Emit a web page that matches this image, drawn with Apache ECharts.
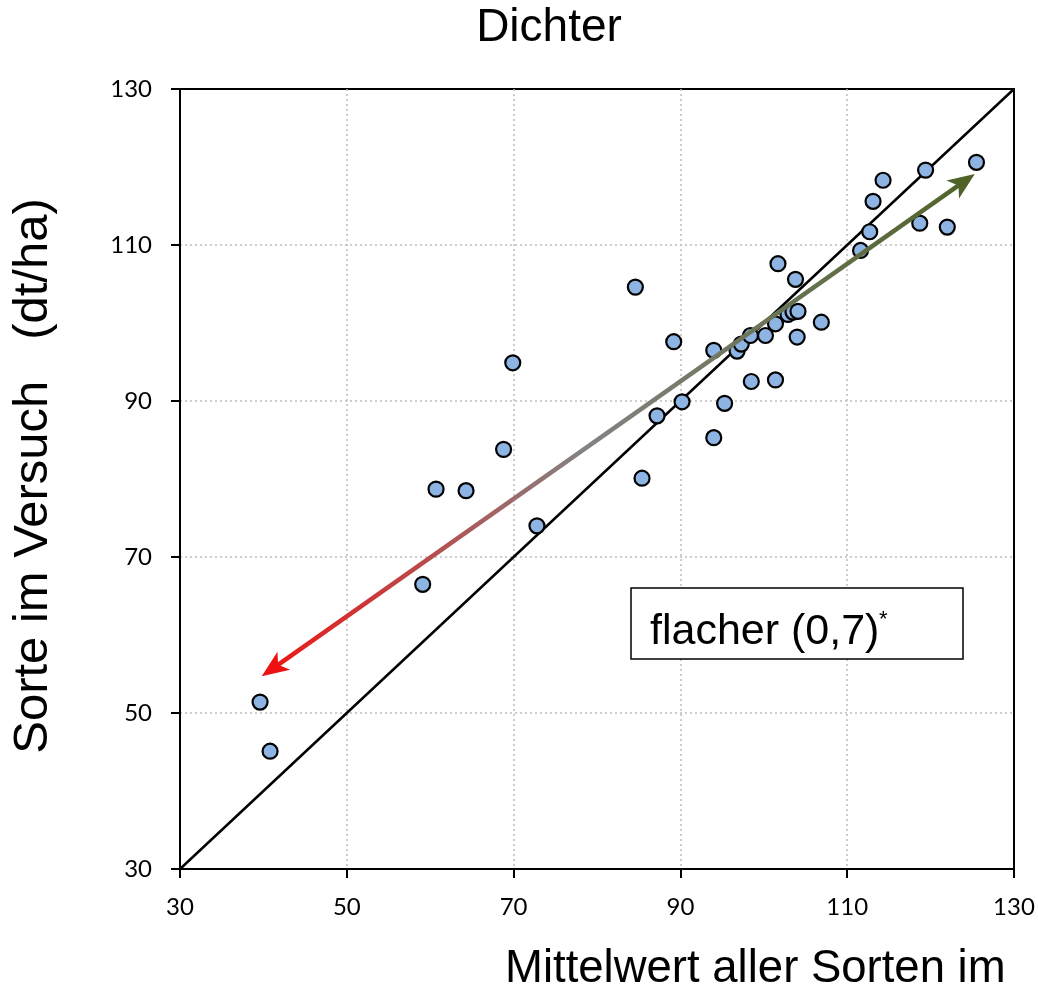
<!DOCTYPE html>
<html>
<head>
<meta charset="utf-8">
<script src="https://cdn.jsdelivr.net/npm/echarts@6/dist/echarts.min.js"></script>
<style>html,body{margin:0;padding:0;background:#fff;}#c{width:1038px;height:996px;}</style>
</head>
<body>
<div id="c"></div>
<script>
// ---- data ----
const xValues = [39.6, 40.8, 59.1, 60.7, 64.3, 68.8, 69.9, 72.8, 84.6, 85.4, 87.2, 89.2, 90.2, 94.0, 94.0, 95.3,
  96.8, 97.3, 98.4, 100.2, 101.4, 102.9, 103.5, 104.1, 106.9, 104.0, 101.4, 98.5, 101.7, 103.8,
  111.6, 112.7, 113.1, 114.3, 119.4, 125.5, 118.7, 122.0];
const yValues = [51.4, 45.1, 66.5, 78.7, 78.5, 83.8, 94.9, 74.0, 104.6, 80.1, 88.1, 97.6, 89.9, 96.5, 85.3, 89.7,
  96.4, 97.3, 98.4, 98.4, 99.9, 101.1, 101.4, 101.5, 100.1, 98.2, 92.7, 92.5, 107.6, 105.6,
  109.3, 111.7, 115.6, 118.3, 119.6, 120.6, 112.8, 112.3];
const diagX = [30, 130];
const diagY = [30, 130];
const arrowRedTip = [39.8, 54.7];
const arrowGreenTip = [125.3, 119.1];
const axisTicks = [30, 50, 70, 90, 110, 130];
const titleText = 'Dichter';
const xTitle = 'Mittelwert aller Sorten im';
const yTitle = 'Sorte im Versuch   (dt/ha)';
const boxText = 'flacher (0,7)';

const points = xValues.map((x, i) => [x, yValues[i]]);
const diag = diagX.map((x, i) => [x, diagY[i]]);

const chart = echarts.init(document.getElementById('c'), null, {renderer: 'canvas'});
const sans = '"Liberation Sans", Arial, sans-serif';
const tickFont = 'Lato, "Open Sans", sans-serif';

const axisCommon = {
  type: 'value', min: axisTicks[0], max: axisTicks[axisTicks.length - 1], interval: 20,
  axisLine: {show: true, onZero: false, lineStyle: {color: '#000', width: 2}},
  axisTick: {show: true, length: 9, lineStyle: {color: '#000', width: 2}},
  splitLine: {show: true, showMinLine: false, showMaxLine: false, lineStyle: {color: '#bdbdbd', type: [2, 3], width: 1.5}},
  axisLabel: {color: '#000', fontSize: 24, fontFamily: tickFont}
};

chart.setOption({
  animation: false,
  backgroundColor: '#fff',
  grid: {left: 180, right: 24, top: 89, bottom: 127, show: true, borderColor: '#000', borderWidth: 2, containLabel: false},
  xAxis: Object.assign({}, axisCommon, {axisLabel: Object.assign({}, axisCommon.axisLabel, {margin: 26})}),
  yAxis: Object.assign({}, axisCommon, {axisLabel: Object.assign({}, axisCommon.axisLabel, {margin: 28})}),
  series: [
    {
      type: 'line', data: diag, symbol: 'none', z: 2,
      lineStyle: {color: '#000', width: 2.5}, silent: true
    },
    {
      type: 'scatter', data: points, symbol: 'circle', symbolSize: 15, z: 3,
      itemStyle: {color: '#8db4e2', borderColor: '#000', borderWidth: 2.2, opacity: 1}
    },
    {
      type: 'custom', z: 4, silent: true,
      encode: {x: [0, 2], y: [1, 3]},
      data: [[arrowRedTip[0], arrowRedTip[1], arrowGreenTip[0], arrowGreenTip[1]]],
      renderItem: function (params, api) {
        const a = api.coord([api.value(0), api.value(1)]);
        const b = api.coord([api.value(2), api.value(3)]);
        const dx = b[0] - a[0], dy = b[1] - a[1];
        const L = Math.hypot(dx, dy);
        const ux = dx / L, uy = dy / L;
        const len = 27, hw = 11, notch = 7;
        function head(tip, dX, dY) {
          const bx = tip[0] - dX * len, by = tip[1] - dY * len;
          const nX = -dY, nY = dX;
          return [[tip[0], tip[1]], [bx + nX * hw, by + nY * hw],
            [tip[0] - dX * (len - notch), tip[1] - dY * (len - notch)], [bx - nX * hw, by - nY * hw]];
        }
        const s = [a[0] + ux * (len - notch - 1), a[1] + uy * (len - notch - 1)];
        const e = [b[0] - ux * (len - notch - 1), b[1] - uy * (len - notch - 1)];
        const grad = new echarts.graphic.LinearGradient(a[0], a[1], b[0], b[1], [
          {offset: 0, color: '#f01414'},
          {offset: 0.2, color: '#c04444'},
          {offset: 0.45, color: '#838383'},
          {offset: 0.7, color: '#6b7558'},
          {offset: 1, color: '#4f6228'}
        ], true);
        return {
          type: 'group',
          children: [
            {type: 'line', shape: {x1: s[0], y1: s[1], x2: e[0], y2: e[1]}, style: {stroke: grad, lineWidth: 4.5}},
            {type: 'polygon', shape: {points: head(a, -ux, -uy)}, style: {fill: '#ee1111'}},
            {type: 'polygon', shape: {points: head(b, ux, uy)}, style: {fill: '#4f6228'}}
          ]
        };
      }
    }
  ],
  graphic: [
    {type: 'text', x: 549, y: 28, style: {text: titleText, font: '46px ' + sans, fill: '#000', textAlign: 'center', textVerticalAlign: 'middle'}},
    {type: 'text', x: 505, y: 969, style: {text: xTitle, font: '45.5px ' + sans, fill: '#000', textAlign: 'left', textVerticalAlign: 'middle'}},
    {type: 'text', x: 33, y: 476, rotation: Math.PI / 2, style: {text: yTitle, font: '49px ' + sans, fill: '#000', textAlign: 'center', textVerticalAlign: 'middle'}},
    {type: 'rect', shape: {x: 631, y: 588, width: 332, height: 71}, style: {fill: '#fff', stroke: '#000', lineWidth: 1.5}, z: 10},
    {type: 'text', x: 650, y: 632, z: 11, style: {text: boxText, font: '43px ' + sans, fill: '#000', textAlign: 'left', textVerticalAlign: 'middle'}},
    {type: 'text', x: 879, y: 620, z: 11, style: {text: '*', font: '22px ' + sans, fill: '#000', textAlign: 'left', textVerticalAlign: 'middle'}}
  ]
});
</script>
</body>
</html>
